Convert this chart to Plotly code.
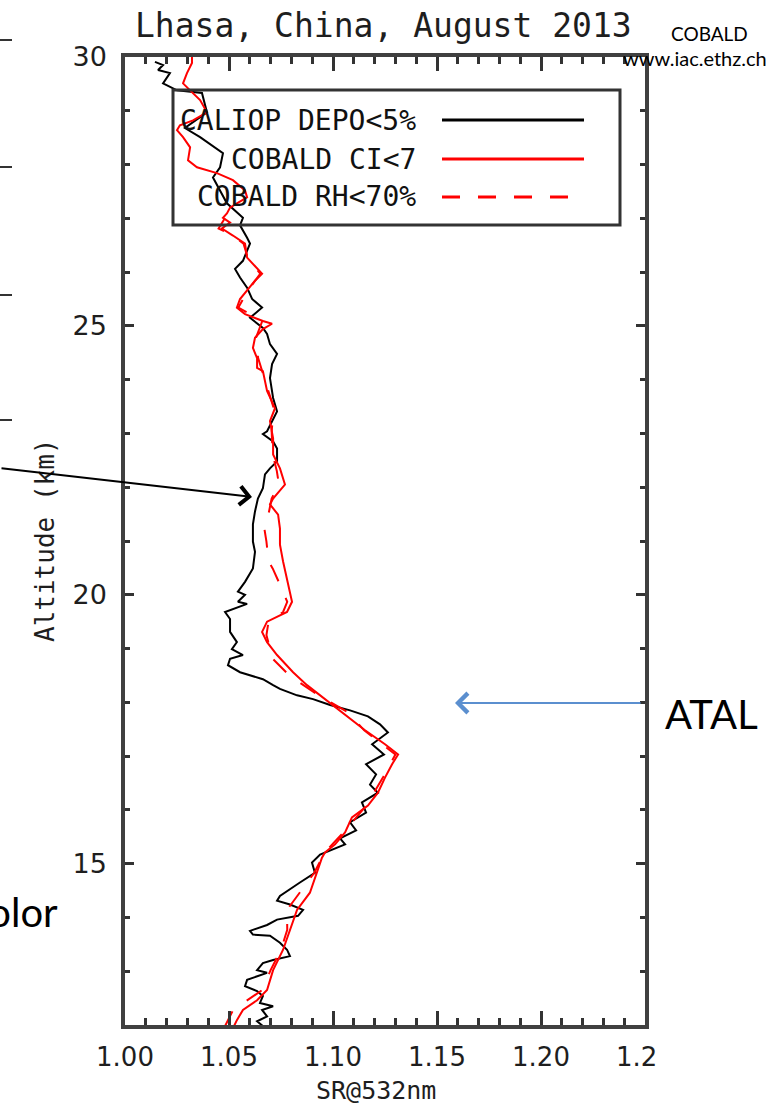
import plotly.graph_objects as go

# ---------------- data ----------------
alt_caliop = [29.91, 29.85, 29.76, 29.70, 29.51, 29.44, 29.38, 29.33, 28.97, 28.68,
              28.51, 28.21, 27.95, 27.76, 27.52, 27.28, 27.01, 26.87, 26.64, 26.53,
              26.21, 26.06, 25.90, 25.71, 25.50, 25.34, 25.15, 24.96, 24.85, 24.66,
              24.48, 24.29, 24.03, 23.66, 23.41, 23.04, 22.99, 22.85, 22.72, 22.48,
              22.35, 22.24, 21.98, 21.79, 21.55, 21.31, 20.99, 20.80, 20.49, 20.24,
              20.06, 20.00, 19.87, 19.83, 19.68, 19.55, 19.31, 19.12, 18.99, 18.88,
              18.81, 18.69, 18.56, 18.43, 18.32, 18.25, 18.13, 18.06, 17.95, 17.85,
              17.74, 17.59, 17.44, 17.22, 17.03, 16.85, 16.66, 16.47, 16.32, 16.14,
              15.95, 15.77, 15.62, 15.47, 15.36, 15.24, 15.17, 15.02, 14.83, 14.65,
              14.40, 14.31, 14.24, 14.14, 14.03, 13.96, 13.86, 13.75, 13.68, 13.66,
              13.53, 13.40, 13.28, 13.21, 13.15, 13.02, 12.97, 12.84, 12.72, 12.63,
              12.54, 12.41, 12.35, 12.28, 12.16, 12.07, 11.98]
sr_caliop = [1.0144, 1.0183, 1.0159, 1.0216, 1.0183, 1.0216, 1.0250, 1.0370, 1.0394, 1.0288,
             1.0361, 1.0471, 1.0457, 1.0423, 1.0457, 1.0490, 1.0567, 1.0553, 1.0587, 1.0601,
             1.0567, 1.0529, 1.0553, 1.0587, 1.0611, 1.0659, 1.0601, 1.0663, 1.0683, 1.0697,
             1.0731, 1.0707, 1.0697, 1.0712, 1.0731, 1.0683, 1.0663, 1.0712, 1.0731, 1.0731,
             1.0697, 1.0673, 1.0663, 1.0639, 1.0625, 1.0615, 1.0615, 1.0625, 1.0615, 1.0577,
             1.0543, 1.0577, 1.0543, 1.0587, 1.0481, 1.0505, 1.0505, 1.0538, 1.0514, 1.0567,
             1.0505, 1.0495, 1.0553, 1.0663, 1.0712, 1.0745, 1.0827, 1.0904, 1.0986, 1.1082,
             1.1168, 1.1226, 1.1264, 1.1188, 1.1245, 1.1159, 1.1207, 1.1178, 1.1216, 1.1139,
             1.1159, 1.1082, 1.1111, 1.1034, 1.1058, 1.0986, 1.0938, 1.0899, 1.0913, 1.0841,
             1.0745, 1.0731, 1.0793, 1.0856, 1.0832, 1.0731, 1.0683, 1.0601, 1.0615, 1.0697,
             1.0745, 1.0779, 1.0793, 1.0712, 1.0663, 1.0635, 1.0683, 1.0587, 1.0577, 1.0635,
             1.0663, 1.0649, 1.0712, 1.0659, 1.0683, 1.0635, 1.0663]

alt_ci = [30.00, 29.89, 29.70, 29.51, 29.38, 29.20, 28.97, 28.82, 28.73, 28.64,
          28.51, 28.32, 28.08, 27.95, 27.84, 27.71, 27.52, 27.39, 27.28, 27.20,
          27.09, 27.01, 26.92, 26.81, 26.68, 26.53, 26.27, 25.97, 25.84, 25.65,
          25.50, 25.34, 25.22, 25.09, 25.04, 24.94, 24.78, 24.59, 24.40, 24.22,
          24.16, 23.79, 23.47, 23.23, 22.91, 22.61, 22.35, 22.05, 21.79, 21.68,
          21.49, 21.23, 20.93, 20.62, 20.06, 19.87, 19.68, 19.55, 19.50, 19.31,
          19.12, 18.88, 18.56, 18.32, 18.13, 18.00, 17.78, 17.48, 17.22, 17.03,
          16.85, 16.60, 16.32, 16.08, 15.86, 15.58, 15.36, 15.21, 15.11, 14.83,
          14.46, 14.14, 13.77, 13.40, 13.02, 12.65, 12.46, 12.28, 12.09, 11.94]
sr_ci = [1.0322, 1.0322, 1.0298, 1.0279, 1.0313, 1.0361, 1.0394, 1.0327, 1.0264, 1.0250,
         1.0279, 1.0313, 1.0303, 1.0346, 1.0442, 1.0519, 1.0577, 1.0587, 1.0538, 1.0505,
         1.0490, 1.0471, 1.0505, 1.0466, 1.0519, 1.0577, 1.0587, 1.0659, 1.0625, 1.0587,
         1.0553, 1.0538, 1.0577, 1.0663, 1.0707, 1.0663, 1.0625, 1.0615, 1.0635, 1.0635,
         1.0663, 1.0683, 1.0721, 1.0697, 1.0712, 1.0712, 1.0745, 1.0769, 1.0712, 1.0697,
         1.0736, 1.0745, 1.0745, 1.0760, 1.0793, 1.0803, 1.0779, 1.0712, 1.0683, 1.0659,
         1.0683, 1.0731, 1.0808, 1.0875, 1.0938, 1.0986, 1.1058, 1.1154, 1.1250, 1.1313,
         1.1284, 1.1250, 1.1216, 1.1168, 1.1091, 1.1058, 1.1010, 1.0962, 1.0947, 1.0923,
         1.0889, 1.0827, 1.0793, 1.0760, 1.0712, 1.0683, 1.0635, 1.0567, 1.0538, 1.0519]

alt_rh = [27.00, 26.81, 26.70, 26.53, 26.27, 25.97, 25.65, 25.34, 25.09, 24.78,
          24.40, 24.16, 23.79, 23.47, 23.04, 22.61, 22.30, 22.05, 21.79, 21.50,
          21.23, 20.99, 20.62, 20.49, 20.06, 19.87, 19.68, 19.50, 19.25, 18.81,
          18.50, 18.13, 17.82, 17.48, 17.03, 16.60, 16.08, 15.58, 15.21, 14.83,
          14.14, 13.77, 13.40, 13.02, 12.65, 12.28, 11.98]
sr_rh = [1.0480, 1.0450, 1.0510, 1.0570, 1.0590, 1.0650, 1.0590, 1.0545, 1.0660, 1.0630,
         1.0640, 1.0660, 1.0690, 1.0715, 1.0705, 1.0710, 1.0730, 1.0740, 1.0705, 1.0690,
         1.0670, 1.0680, 1.0690, 1.0710, 1.0760, 1.0780, 1.0760, 1.0690, 1.0680, 1.0710,
         1.0790, 1.0930, 1.1070, 1.1150, 1.1300, 1.1240, 1.1160, 1.1050, 1.0960, 1.0910,
         1.0779, 1.0780, 1.0750, 1.0700, 1.0660, 1.0520, 1.0481]

series_names = ["CALIOP DEPO<5%", "COBALD CI<7", "COBALD RH<70%"]
series_colors = ["#000000", "#ff0000", "#ff0000"]
series_dash = ["solid", "solid", "18px,18px"]

title_text = "Lhasa, China, August 2013"
x_title = "SR@532nm"
y_title = "Altitude (km)"

# ---------------- figure ----------------
W, H = 781, 1110
L, R, T, B = 125, 136, 57, 85
PW, PH = W - L - R, H - T - B


def px(x):
    return (x - L) / PW


def py(y):
    return (H - B - y) / PH


fig = go.Figure()
for (xs, ys), name, col, dash in zip(
        [(sr_caliop, alt_caliop), (sr_ci, alt_ci), (sr_rh, alt_rh)],
        series_names, series_colors, series_dash):
    fig.add_trace(go.Scatter(x=xs, y=ys, mode="lines", name=name,
                             line=dict(color=col, width=2, dash=dash)))

MONO = "DejaVu Sans Mono"
SANS = "DejaVu Sans"
TXT = "#1e1e1e"
AX = "#404040"

fig.update_layout(
    width=W, height=H, autosize=False,
    margin=dict(l=L, r=R, t=T, b=B, pad=0),
    paper_bgcolor="white", plot_bgcolor="white",
    showlegend=False,
    font=dict(family=MONO, color=TXT),
)
fig.update_xaxes(
    range=[1.0, 1.25], tick0=1.0, dtick=0.05, tickformat=".2f",
    ticks="inside", ticklen=14, tickwidth=2.5, tickcolor="#333333",
    showline=True, linewidth=3.5, linecolor=AX, mirror="allticks",
    showgrid=False, zeroline=False,
    tickfont=dict(family=SANS, size=26, color=TXT), ticklabelstandoff=6,
    minor=dict(dtick=0.01, tick0=1.0, ticks="inside", ticklen=7, tickwidth=2.5,
               tickcolor="#333333", showgrid=False),
)
fig.update_yaxes(
    range=[12, 30], tick0=0, dtick=5,
    ticks="inside", ticklen=9, tickwidth=2.5, tickcolor="#333333",
    showline=True, linewidth=3.5, linecolor=AX, mirror="allticks",
    showgrid=False, zeroline=False,
    tickfont=dict(family=SANS, size=27, color=TXT), ticklabelstandoff=9,
    minor=dict(dtick=1, tick0=0, ticks="inside", ticklen=5, tickwidth=2.5,
               tickcolor="#333333", showgrid=False),
)

ann = []
shapes = []

# title and axis titles
ann.append(dict(text=title_text, x=px(383), y=py(25), xref="paper", yref="paper",
                showarrow=False, xanchor="center", yanchor="middle",
                font=dict(family=MONO, size=33, color=TXT)))
ann.append(dict(text=x_title, x=px(376), y=py(1090), xref="paper", yref="paper",
                showarrow=False, xanchor="center", yanchor="middle",
                font=dict(family=MONO, size=25, color=TXT)))
ann.append(dict(text=y_title, x=px(45), y=py(540), xref="paper", yref="paper",
                showarrow=False, xanchor="center", yanchor="middle", textangle=-90,
                font=dict(family=MONO, size=26, color=TXT)))

# legend box (IDL style: label then line sample)
shapes.append(dict(type="rect", xref="paper", yref="paper",
                   x0=px(173), x1=px(620), y0=py(225), y1=py(90),
                   line=dict(color="#333333", width=3), fillcolor="rgba(0,0,0,0)"))
leg_y = [120, 159, 197]
for name, col, dash, yy in zip(series_names, series_colors, series_dash, leg_y):
    ann.append(dict(text=name, x=px(418), y=py(yy), xref="paper", yref="paper",
                    showarrow=False, xanchor="right", yanchor="middle",
                    font=dict(family=MONO, size=28, color="#111111")))
    shapes.append(dict(type="line", xref="paper", yref="paper",
                       x0=px(442), x1=px(584), y0=py(yy), y1=py(yy),
                       line=dict(color=col, width=3, dash=dash)))

# cover the right part of the "1.25" label (the chart image was cropped in the slide)
shapes.append(dict(type="rect", xref="paper", yref="paper", layer="above",
                   x0=px(657), x1=px(795), y0=py(1078), y1=py(1036),
                   line=dict(width=0), fillcolor="white"))

# slide overlays
ann.append(dict(text="COBALD", x=px(709), y=py(33), xref="paper", yref="paper",
                showarrow=False, xanchor="center", yanchor="middle",
                font=dict(family="Lato", size=19, color="#000000")))
ann.append(dict(text="www.iac.ethz.ch", x=px(695), y=py(58), xref="paper", yref="paper",
                showarrow=False, xanchor="center", yanchor="middle",
                font=dict(family="Lato", size=20, color="#000000")))
ann.append(dict(text="ATAL", x=px(711), y=py(714), xref="paper", yref="paper",
                showarrow=False, xanchor="center", yanchor="middle",
                font=dict(family="Lato", size=40, color="#000000")))
ann.append(dict(text="Color", x=px(60), y=py(912), xref="paper", yref="paper",
                showarrow=False, xanchor="right", yanchor="middle",
                font=dict(family="Lato", size=40, color="#000000")))
# blue arrow
ann.append(dict(text="", x=px(455), y=py(703), xref="paper", yref="paper",
                showarrow=True, ax=187, ay=0, arrowhead=4, arrowsize=1.9,
                arrowwidth=2, arrowcolor="#5B8FCF"))
# black arrow
ann.append(dict(text="", x=px(252), y=py(497), xref="paper", yref="paper",
                showarrow=True, ax=-252, ay=-29, arrowhead=4, arrowsize=1.8,
                arrowwidth=2, arrowcolor="#000000"))
# left-edge ticks from neighbouring slide content
for yy in [40, 167, 295, 420]:
    shapes.append(dict(type="line", xref="paper", yref="paper",
                       x0=px(0), x1=px(12), y0=py(yy), y1=py(yy),
                       line=dict(color="#333333", width=2)))

fig.update_layout(annotations=ann, shapes=shapes)
fig.write_html("out.html")
